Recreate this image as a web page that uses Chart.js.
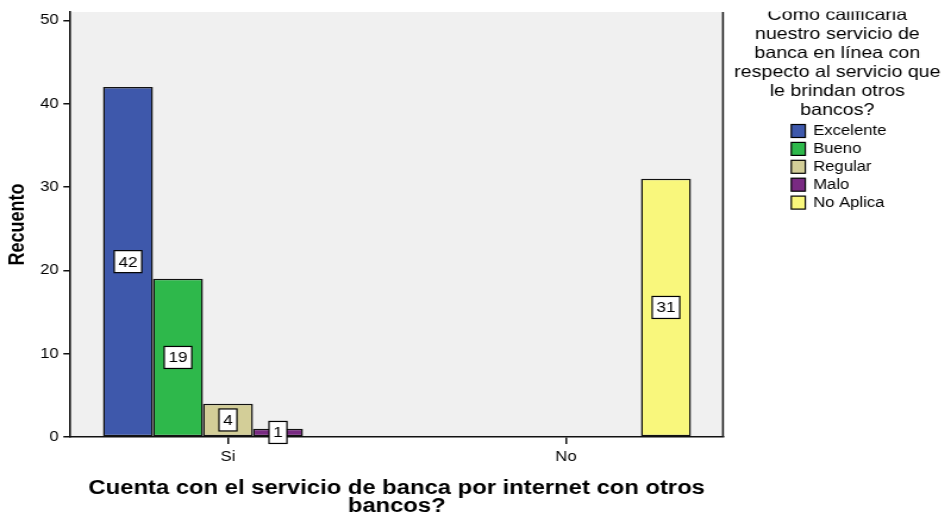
<!DOCTYPE html>
<html>
<head>
<meta charset="utf-8">
<script src="https://cdn.jsdelivr.net/npm/chart.js@4.4.1/dist/chart.umd.min.js"></script>
<style>
  html, body { margin: 0; padding: 0; background: #fff; overflow: hidden; }
  #wrap { width: 799px; height: 515px; transform: scaleX(1.190238); transform-origin: 0 0; }
  canvas { display: block; }
</style>
</head>
<body>
<div id="wrap"><canvas id="c" width="799" height="515" style="width:799px;height:515px"></canvas></div>
<script>
// ---- data ----
const categories = ['Si', 'No'];
const seriesNames = ['Excelente', 'Bueno', 'Regular', 'Malo', 'No Aplica'];
const excelente = [42, null];
const bueno = [19, null];
const regular = [4, null];
const malo = [1, null];
const noAplica = [null, 31];
const yTicks = [0, 10, 20, 30, 40, 50];
const legendTitle = ['Como calificaria', 'nuestro servicio de', 'banca en línea con', 'respecto al servicio que', 'le brindan otros', 'bancos?'];
const xTitle = ['Cuenta con el servicio de banca por internet con otros', 'bancos?'];
const yTitle = 'Recuento';

// ---- style ----
const seriesColors = ['#3e58ab', '#2eb84b', '#d3ce98', '#792a82', '#f9f77c'];
const FONT = '"Liberation Sans", Arial, Helvetica, sans-serif';
Chart.defaults.font.family = FONT;
Chart.defaults.color = '#000';

const seriesValues = [excelente, bueno, regular, malo, noAplica];
const datasets = seriesNames.map((name, k) => ({
  label: name,
  data: seriesValues[k].map((v, i) => ({ x: i, y: v })),
  backgroundColor: seriesColors[k],
  borderColor: '#111',
  borderWidth: 1.5,
  borderSkipped: false,
  categoryPercentage: 0.7396,
  barPercentage: 1
}));

const bgPlugin = {
  id: 'plotBg',
  beforeDraw(chart) {
    const a = chart.chartArea, ctx = chart.ctx;
    ctx.save();
    ctx.fillStyle = '#f0f0f0';
    ctx.fillRect(a.left, a.top, a.right - a.left, a.bottom - a.top);
    ctx.restore();
  },
  afterDraw(chart) {
    const a = chart.chartArea, ctx = chart.ctx;
    ctx.save();
    ctx.strokeStyle = '#222';
    ctx.lineWidth = 1.6;
    ctx.beginPath();
    ctx.moveTo(a.right, a.top);
    ctx.lineTo(a.right, a.bottom);
    ctx.stroke();
    ctx.restore();
  }
};

const labelPlugin = {
  id: 'boxLabels',
  afterDatasetsDraw(chart) {
    const ctx = chart.ctx;
    ctx.save();
    ctx.font = '14.5px ' + FONT;
    ctx.textAlign = 'center';
    ctx.textBaseline = 'middle';
    chart.data.datasets.forEach((ds, di) => {
      const meta = chart.getDatasetMeta(di);
      meta.data.forEach((bar, i) => {
        const v = ds.data[i].y;
        if (v === null || v === undefined) return;
        const cx = bar.x, cy = (bar.y + bar.base) / 2;
        const t = String(v);
        const w = ctx.measureText(t).width + 7, h = 22;
        ctx.fillStyle = '#fff';
        ctx.fillRect(cx - w / 2, cy - h / 2, w, h);
        ctx.strokeStyle = '#000';
        ctx.lineWidth = 1.2;
        ctx.strokeRect(cx - w / 2, cy - h / 2, w, h);
        ctx.fillStyle = '#000';
        ctx.fillText(t, cx, cy + 1);
      });
    });
    ctx.restore();
  }
};

const legendPlugin = {
  id: 'sideLegend',
  afterDraw(chart) {
    const ctx = chart.ctx;
    ctx.save();
    ctx.beginPath();
    ctx.rect(0, 11.5, chart.width, chart.height);
    ctx.clip();
    ctx.fillStyle = '#000';
    ctx.textAlign = 'center';
    ctx.textBaseline = 'middle';
    ctx.font = '16.5px ' + FONT;
    const tx = 703.5;
    legendTitle.forEach((line, i) => ctx.fillText(line, tx, 15 + i * 19.1));
    ctx.font = '14px ' + FONT;
    ctx.textAlign = 'left';
    chart.data.datasets.forEach((ds, i) => {
      const cy = 131 + i * 17.9;
      ctx.fillStyle = ds.backgroundColor;
      ctx.fillRect(664.8, cy - 6.5, 11.8, 13);
      ctx.strokeStyle = '#000';
      ctx.lineWidth = 1.2;
      ctx.strokeRect(664.8, cy - 6.5, 11.8, 13);
      ctx.fillStyle = '#000';
      ctx.fillText(ds.label, 683.2, cy + 0.5);
    });
    ctx.restore();
  }
};

new Chart(document.getElementById('c'), {
  type: 'bar',
  data: { datasets },
  plugins: [bgPlugin, labelPlugin, legendPlugin],
  options: {
    responsive: false,
    animation: false,
    devicePixelRatio: 1,
    layout: { padding: { left: 0, top: 12, right: 191.6, bottom: 0 } },
    plugins: {
      legend: { display: false },
      tooltip: { enabled: false },
      title: { display: false }
    },
    scales: {
      x: {
        type: 'linear',
        offset: false,
        min: -0.466,
        max: 1.4645,
        afterBuildTicks: s => { s.ticks = categories.map((c, i) => ({ value: i })); },
        afterFit: s => { s.height = 78; s.paddingLeft = 0; s.paddingRight = 0; },
        ticks: {
          callback: (v, i) => categories[i],
          font: { size: 14 },
          color: '#000',
          padding: 5,
          maxRotation: 0,
          autoSkip: false
        },
        grid: { offset: false, drawOnChartArea: false, drawTicks: true, tickLength: 7, color: '#111', lineWidth: 1.5 },
        border: { color: '#111', width: 1.6 },
        title: {
          display: true,
          text: xTitle,
          font: { size: 20, weight: 'bold', lineHeight: 0.9 },
          color: '#000',
          padding: { top: 0, bottom: 0 }
        }
      },
      y: {
        min: 0,
        max: 51,
        afterBuildTicks: s => { s.ticks = yTicks.map(v => ({ value: v })); },
        afterFit: s => { s.width = 59.2; s.paddingTop = 0; s.paddingBottom = 0; },
        ticks: { font: { size: 14 }, color: '#000', padding: 4 },
        grid: { drawOnChartArea: false, drawTicks: true, tickLength: 6, color: '#111', lineWidth: 1.5 },
        border: { color: '#111', width: 1.6 },
        title: {
          display: true,
          text: yTitle,
          font: { size: 18, weight: 'bold' },
          color: '#000',
          padding: { top: 4, bottom: 0 }
        }
      }
    }
  }
});
</script>
</body>
</html>
